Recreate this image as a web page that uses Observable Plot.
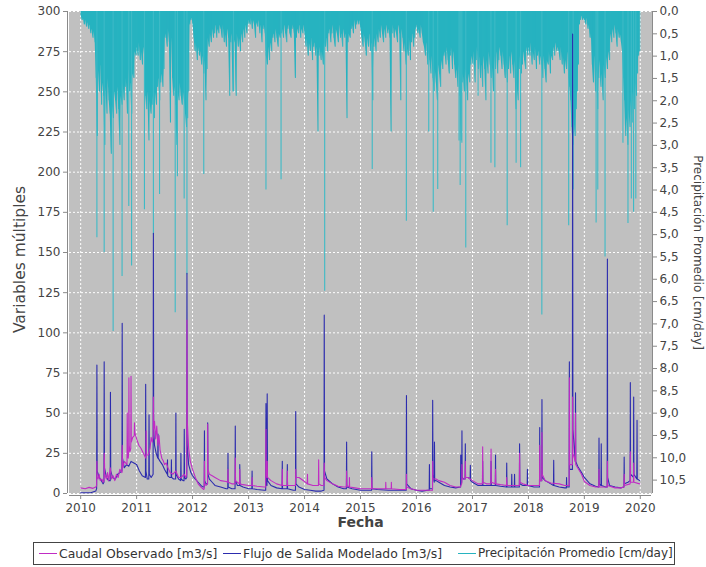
<!DOCTYPE html>
<html>
<head>
<meta charset="utf-8">
<script src="https://cdn.jsdelivr.net/npm/d3@7"></script>
<script src="https://cdn.jsdelivr.net/npm/@observablehq/plot@0.6"></script>
<style>
  body { margin: 0; background: #fff; font-family: "DejaVu Sans", sans-serif; }
  #wrap { position: relative; width: 706px; height: 567px; }
  #legend { position: absolute; left: 33px; top: 542px; width: 642px; height: 23px; border: 1px solid #444; box-sizing: border-box; font-size: 12.4px; color: #333; }
  .item { position: absolute; top: 3px; display: flex; align-items: center; white-space: nowrap; }
  .sw { display: inline-block; width: 18px; height: 1px; margin-right: 2px; }
</style>
</head>
<body>
<div id="wrap"><div id="chart"></div><div id="legend"></div></div>
<script>
// ---------- tick labels ----------
const yearTicks = [2010, 2011, 2012, 2013, 2014, 2015, 2016, 2017, 2018, 2019, 2020];
const leftTicks = [0, 25, 50, 75, 100, 125, 150, 175, 200, 225, 250, 275, 300];
const precipTicks = [0, 0.5, 1, 1.5, 2, 2.5, 3, 3.5, 4, 4.5, 5, 5.5, 6, 6.5, 7, 7.5, 8, 8.5, 9, 9.5, 10, 10.5];
const precipTickLabels = ["0,0","0,5","1,0","1,5","2,0","2,5","3,0","3,5","4,0","4,5","5,0","5,5","6,0","6,5","7,0","7,5","8,0","8,5","9,0","9,5","10,0","10,5"];
const seriesNames = ["Caudal Observado [m3/s]", "Flujo de Salida Modelado [m3/s]", "Precipitación Promedio [cm/day]"];

// ---------- Caudal Observado [m3/s]  [decimal year, value] ----------
const observado = [
[2010.00,3.5],[2010.08,3],[2010.15,3.8],[2010.22,3.2],[2010.27,4],
[2010.285,5],[2010.29,20],[2010.295,10],[2010.31,9],[2010.33,12],[2010.35,8],[2010.38,9],[2010.40,7],
[2010.418,8],[2010.422,25],[2010.43,12],[2010.46,9],[2010.48,13],[2010.50,8],[2010.53,16],[2010.55,9],[2010.58,11],[2010.61,8],[2010.64,12],[2010.67,10],[2010.70,15],
[2010.738,13],[2010.742,30],[2010.75,16],[2010.78,20],
[2010.828,18],[2010.832,50],[2010.838,24],[2010.85,22],
[2010.858,25],[2010.862,72],[2010.868,30],[2010.88,26],
[2010.896,28],[2010.90,73],[2010.905,32],[2010.93,35],
[2010.958,36],[2010.962,44],[2010.968,38],[2011.00,34],[2011.04,30],[2011.08,28],[2011.12,25],[2011.15,23],
[2011.166,22],[2011.17,39],[2011.175,24],[2011.21,24],[2011.24,28],[2011.26,35],[2011.28,32],
[2011.297,35],[2011.30,60],[2011.305,40],[2011.32,45],[2011.34,34],[2011.36,42],[2011.38,30],[2011.40,36],[2011.42,27],[2011.45,22],[2011.48,20],[2011.50,18],[2011.53,19],[2011.56,16],[2011.60,13],[2011.65,12],
[2011.70,14],[2011.75,10],[2011.80,10],[2011.85,12],[2011.88,10],
[2011.896,12],[2011.90,108],[2011.906,45],[2011.93,28],[2011.96,20],[2012.00,15],[2012.05,10],[2012.10,6],[2012.15,4],[2012.20,2.5],
[2012.208,3],[2012.212,20],[2012.216,6],[2012.24,5],
[2012.267,6],[2012.27,43],[2012.275,15],[2012.30,12],[2012.35,11],[2012.40,10],[2012.50,8],[2012.60,7.5],
[2012.628,7],[2012.632,15],[2012.636,7],[2012.70,6],
[2012.758,6],[2012.762,22],[2012.766,8],[2012.80,7],
[2012.838,6],[2012.842,15],[2012.846,6],[2012.90,5.5],[2013.00,5],
[2013.058,5],[2013.062,10],[2013.066,5],[2013.15,4.5],[2013.28,4],
[2013.305,4],[2013.31,40],[2013.315,10],[2013.332,20],[2013.337,10],[2013.40,8],[2013.50,6],
[2013.598,5],[2013.602,15],[2013.606,5],
[2013.688,5],[2013.692,14],[2013.696,5],[2013.80,5],
[2013.838,5],[2013.842,15],[2013.846,10],[2013.90,10],[2014.00,7.5],
[2014.048,6],[2014.052,12],[2014.056,6],[2014.15,5],
[2014.248,5],[2014.252,21],[2014.256,6],[2014.30,5],
[2014.348,5],[2014.352,19],[2014.357,10],[2014.40,8],[2014.50,6],[2014.60,4.5],[2014.70,4],
[2014.748,4],[2014.752,14],[2014.756,5],[2014.80,4],[2014.802,10],[2014.806,4],[2014.90,3.5],[2015.00,3],
[2015.198,3],[2015.202,10],[2015.206,3],[2015.30,3],[2015.45,3],[2015.452,7],[2015.456,3],[2015.55,3],[2015.552,7],[2015.556,3],[2015.70,2.5],
[2015.818,2.5],[2015.822,12],[2015.826,4],[2015.90,3],[2016.00,2],[2016.20,2],
[2016.287,2],[2016.29,20],[2016.295,9],[2016.35,9],[2016.40,8],[2016.50,7],[2016.60,5],[2016.70,4],[2016.78,4],
[2016.808,6],[2016.812,18],[2016.816,9],
[2016.868,9],[2016.872,20],[2016.876,10],[2016.92,10],[2017.00,8],[2017.10,6],
[2017.178,6],[2017.182,29],[2017.186,7],[2017.25,6],
[2017.328,6],[2017.332,27.7],[2017.336,7],
[2017.408,6],[2017.412,15],[2017.416,6],[2017.50,5.5],
[2017.608,5],[2017.612,10],[2017.616,5],[2017.70,5],
[2017.838,5],[2017.842,25],[2017.846,7],[2017.90,6],[2018.00,5],[2018.18,5],
[2018.198,5],[2018.202,30],[2018.206,8],
[2018.238,8],[2018.242,38],[2018.246,12],[2018.30,8],[2018.40,6.5],[2018.55,6],[2018.65,5],
[2018.728,5],[2018.732,72],[2018.736,18],
[2018.786,18],[2018.79,60],[2018.795,25],
[2018.838,20],[2018.842,50],[2018.846,18],[2018.88,16],[2018.95,12],[2019.00,7.5],[2019.10,5],[2019.20,4],
[2019.258,4],[2019.262,15],[2019.266,4],[2019.38,4],
[2019.408,4],[2019.412,20],[2019.416,5],[2019.55,3.5],[2019.65,3.5],
[2019.708,4],[2019.712,12],[2019.716,5],
[2019.818,6],[2019.822,26],[2019.826,7],
[2019.878,7],[2019.882,19],[2019.886,7],[2019.99,6]
];

// ---------- Flujo de Salida Modelado [m3/s] ----------
const modelado = [
[2010.00,0.5],[2010.18,0.5],[2010.27,1.5],
[2010.285,3],[2010.29,80],[2010.295,14],[2010.33,10],[2010.37,8],[2010.40,6],
[2010.416,7],[2010.42,82],[2010.425,16],[2010.46,10],[2010.50,8],
[2010.528,8],[2010.532,63],[2010.537,14],[2010.57,10],[2010.62,9],[2010.66,12],[2010.70,13],
[2010.738,14],[2010.742,106],[2010.747,22],[2010.78,16],[2010.82,18],[2010.86,17],[2010.90,20],[2010.95,19],[2011.00,18],[2011.05,14],[2011.10,11],
[2011.158,10],[2011.162,68],[2011.167,14],[2011.19,9],
[2011.218,9],[2011.222,49],[2011.227,12],[2011.26,10],
[2011.295,12],[2011.30,162],[2011.305,40],[2011.32,30],[2011.35,25],
[2011.378,22],[2011.382,37],[2011.386,22],[2011.42,20],[2011.46,18],[2011.50,15],
[2011.548,12],[2011.552,21],[2011.556,11],[2011.59,10],
[2011.618,10],[2011.622,21],[2011.626,10],[2011.66,9],
[2011.698,9],[2011.702,50],[2011.706,12],[2011.75,9],
[2011.788,8],[2011.792,25],[2011.796,9],[2011.83,8],
[2011.848,8],[2011.852,40],[2011.856,10],[2011.88,9],
[2011.897,10],[2011.90,137],[2011.905,30],[2011.93,18],[2011.97,13],[2012.00,11],[2012.05,9],[2012.10,7],[2012.15,5],[2012.19,4],
[2012.208,4],[2012.212,39],[2012.216,8],[2012.24,6],
[2012.267,6],[2012.27,44],[2012.275,12],[2012.30,9],[2012.35,7],[2012.40,5],[2012.50,4],[2012.60,3],
[2012.628,3],[2012.632,25],[2012.636,4],[2012.70,3],
[2012.758,3],[2012.762,42],[2012.766,8],[2012.80,5],
[2012.838,5],[2012.842,18],[2012.846,5],[2012.90,4],[2013.00,3],
[2013.058,3],[2013.062,14],[2013.066,3],[2013.15,2.5],[2013.28,2],
[2013.305,2],[2013.31,56],[2013.315,6],[2013.328,5],[2013.332,62],[2013.337,8],[2013.40,5],[2013.50,3.5],
[2013.598,3],[2013.602,20],[2013.606,3],
[2013.688,3],[2013.692,18],[2013.696,3],[2013.80,2],
[2013.838,2],[2013.842,51],[2013.846,6],[2013.90,4],[2014.00,2.5],[2014.10,2],[2014.20,1.5],[2014.30,1.5],
[2014.348,2],[2014.352,111],[2014.357,14],[2014.40,9],[2014.50,6],[2014.60,4],[2014.70,3],
[2014.748,3],[2014.752,32],[2014.756,4],[2014.85,3],[2015.00,2],[2015.10,2],
[2015.198,2],[2015.202,26],[2015.206,3],[2015.30,2.5],[2015.50,2],[2015.70,2],[2015.80,2],
[2015.818,2],[2015.822,61],[2015.826,6],[2015.90,3],[2016.00,2],[2016.10,1.5],[2016.20,2],
[2016.228,2],[2016.232,18],[2016.236,3],[2016.26,3],
[2016.287,3],[2016.29,58],[2016.295,12],[2016.318,7],[2016.322,32],[2016.326,8],[2016.35,8],[2016.40,7],[2016.50,5],[2016.60,4],[2016.70,3.5],[2016.78,4],
[2016.788,4],[2016.79,24],[2016.795,6],
[2016.808,7],[2016.812,39],[2016.816,10],[2016.84,9],
[2016.868,9],[2016.872,31],[2016.876,10],[2016.92,10],
[2016.958,9],[2016.962,17.5],[2016.966,8],[2017.00,7],[2017.10,5],
[2017.178,5],[2017.182,20],[2017.186,5],
[2017.328,5],[2017.332,20],[2017.336,5],
[2017.408,5],[2017.412,24],[2017.416,5],[2017.50,4.5],
[2017.608,4],[2017.612,19],[2017.616,4],
[2017.698,4],[2017.702,12],[2017.706,4],
[2017.748,4],[2017.752,12],[2017.756,4],
[2017.838,4],[2017.842,31],[2017.846,6],[2017.90,5],
[2017.978,5],[2017.982,15],[2017.986,5],[2018.10,4],[2018.18,4],
[2018.198,4],[2018.202,41],[2018.206,8],
[2018.238,8],[2018.242,58.5],[2018.246,10],[2018.30,8],[2018.40,6],
[2018.448,5],[2018.452,20.6],[2018.456,5],[2018.55,4],[2018.65,3.5],
[2018.678,3.5],[2018.682,10],[2018.686,4],
[2018.728,4],[2018.732,82],[2018.736,15],
[2018.786,15],[2018.79,286],[2018.795,40],
[2018.838,20],[2018.842,62.7],[2018.846,20],[2018.88,17],[2018.95,13],[2019.00,10],[2019.10,6],[2019.20,4.5],
[2019.258,4],[2019.262,34.5],[2019.266,6],
[2019.298,5],[2019.302,31],[2019.306,5],[2019.38,4],
[2019.408,4],[2019.412,146],[2019.416,10],[2019.45,5],[2019.55,4],[2019.65,3.5],
[2019.708,4],[2019.712,22.7],[2019.716,6],[2019.78,7],
[2019.818,8],[2019.822,69],[2019.826,12],
[2019.878,10],[2019.882,60],[2019.886,12],
[2019.938,9],[2019.942,45.6],[2019.946,9],[2019.99,8]
];

// ---------- Precipitación Promedio [cm/day]: weekly depth of the dense band ----------
const precip2010 = [0.1,0.2,0.15,0.3,0.2,0.35,0.25,0.4,0.3,0.5,0.4,0.6,0.45,0.7,1.5,2.8,1.3,1.8,1.2,2.1,1.6,1.9,3.0,1.7,2.3,1.5,2.0,2.3,3.2,2.1,2.4,1.8,2.0,2.3,1.7,2.2,3.0,1.9,2.1,1.6,2.0,1.7,1.5,2.3,1.3,1.8,1.6,2.3,1.4,1.5,0.9,1.0];
const precip2011 = [0.8,1.0,0.7,1.1,0.9,1.2,0.8,1.0,1.9,2.2,1.8,2.9,2.0,2.3,2.1,1.9,2.4,1.8,2.1,1.7,1.5,2.0,1.6,1.4,1.7,1.3,0.6,0.5,0.8,0.4,0.7,2.5,0.6,1.5,1.9,1.7,2.1,3.0,1.8,2.0,1.6,1.9,2.1,1.8,2.0,2.3,2.6,2.4,1.8,0.3,0.2,0.15];
const precip2012 = [0.3,0.6,0.9,0.7,1.1,0.8,1.0,0.9,1.2,1.0,1.4,1.1,2.0,1.3,0.6,0.8,0.5,0.7,0.4,0.6,0.5,0.3,0.6,0.4,0.5,0.3,0.4,0.6,0.3,0.7,0.5,0.8,0.4,0.6,1.9,0.7,0.5,1.8,0.6,0.7,1.9,0.5,0.8,0.6,0.9,0.5,0.7,0.4,0.6,0.3,0.5,0.3];
const precip2013 = [0.2,0.3,0.15,0.4,0.2,0.3,0.6,0.25,0.35,0.2,0.5,0.3,0.7,0.4,0.3,0.5,1.0,1.2,0.8,1.1,0.7,0.9,0.6,0.5,0.7,0.4,0.6,0.8,0.5,0.6,0.5,0.4,0.6,0.3,0.5,0.7,0.4,0.3,0.5,0.6,0.4,0.3,0.5,1.5,0.6,0.4,0.5,0.3,0.6,0.4,0.5,0.3];
const precip2014 = [0.5,0.8,0.6,1.0,0.7,0.9,0.6,1.1,0.8,0.7,1.0,0.8,2.7,1.0,0.8,1.1,0.9,1.2,0.7,0.8,0.6,0.9,0.5,0.4,0.7,0.5,0.3,0.6,0.8,0.4,0.5,0.7,0.3,0.6,0.5,0.8,0.4,0.6,0.5,2.4,0.7,0.5,0.6,0.4,0.3,0.5,0.2,0.4,0.3,0.2,0.3,0.2];
const precip2015 = [0.4,0.6,0.8,0.5,0.7,1.0,0.6,0.8,0.5,0.9,0.7,2.0,0.8,0.6,0.9,0.5,0.7,0.4,0.6,0.3,0.5,0.7,0.4,0.6,0.3,0.5,0.4,0.6,2.7,0.5,0.3,0.6,0.4,0.5,0.7,0.3,0.5,2.0,0.4,0.6,0.9,0.7,1.2,0.8,1.0,0.6,1.1,0.7,0.5,0.8,0.6,0.4];
const precip2016 = [0.3,0.5,0.4,0.6,0.3,0.5,0.7,0.8,1.0,0.7,1.2,0.9,1.1,1.4,1.0,1.5,1.8,1.3,1.6,2.0,1.2,1.4,1.7,1.1,1.3,1.0,0.9,1.2,0.8,1.1,1.4,1.0,0.8,1.3,0.9,1.2,1.5,1.3,1.7,1.2,1.9,2.9,1.6,1.4,1.8,1.3,1.5,2.0,1.4,1.6,1.2,1.0];
const precip2017 = [1.2,0.9,1.6,1.1,0.8,1.3,1.0,1.5,1.2,1.7,1.0,1.3,2.0,1.1,1.4,0.9,1.2,1.5,1.2,1.8,1.0,1.3,0.9,1.4,1.1,0.8,1.0,1.3,0.9,1.2,1.5,1.1,1.6,1.3,1.0,1.4,0.9,1.2,1.5,1.1,2.2,1.6,2.0,1.3,1.0,1.4,1.2,0.9,1.1,1.3,0.8,1.0];
const precip2018 = [0.8,1.0,0.7,1.2,0.9,1.1,0.8,1.3,1.0,0.9,1.2,1.0,1.2,1.5,1.0,1.3,1.6,1.1,1.2,0.9,1.4,1.0,1.1,0.8,1.0,0.7,0.9,0.8,0.9,1.1,0.8,1.2,1.0,1.4,1.1,1.3,0.9,1.5,1.7,2.0,2.6,3.0,2.4,2.8,2.2,1.8,1.2,0.3,0.2,0.1,0.2,0.15];
const precip2019 = [0.2,0.3,0.15,0.4,0.3,0.6,0.5,1.2,1.6,1.0,1.8,1.3,2.2,1.5,1.1,1.7,1.4,2.0,1.2,1.5,1.0,1.3,0.9,1.1,0.5,0.7,0.4,0.6,0.3,0.5,0.8,0.4,0.6,0.5,0.7,0.9,1.5,2.0,2.8,2.4,3.0,2.2,2.6,2.0,2.5,1.8,2.2,1.6,1.9,1.4,1.0,0.9];
// isolated heavy days [decimal year, cm/day]
const precipPeaks = [
[2010.29,5.07],[2010.42,5.4],[2010.58,7.17],[2010.74,5.94],[2010.86,4.37],[2010.91,5.7],[2011.14,4.44],[2011.30,5.0],
[2011.41,4.1],[2011.69,6.75],[2011.73,3.7],[2011.85,4.2],[2011.90,5.9],[2012.20,3.65],[2012.73,1.8],[2013.31,4.0],[2013.58,3.77],
[2014.36,6.27],[2015.21,3.54],[2015.82,4.7],[2016.22,2.7],[2016.30,4.5],[2016.38,3.99],[2016.76,2.9],[2016.78,3.9],[2016.81,2.95],[2016.88,5.3],
[2017.10,1.9],[2017.33,3.4],[2017.40,3.5],[2017.62,4.8],[2017.78,3.4],[2017.86,3.5],[2018.24,6.8],[2018.72,4.8],[2018.80,4.0],[2019.21,4.74],
[2019.24,4.0],[2019.37,5.5],[2019.69,2.95],[2019.78,4.75],[2019.84,4.2],[2019.88,4.5],[2019.92,4.2]
];

// ---------- helpers ----------
function ty(t) { // decimal year -> UTC date
  const y = Math.floor(t), s = Date.UTC(y, 0, 1), e = Date.UTC(y + 1, 0, 1);
  return new Date(s + (t - y) * (e - s));
}
const leftMax = 300, precipMax = 10.8; // right axis spans 0..10.8 (reversed) over the same height
const toLeft = p => leftMax - p * leftMax / precipMax;

const precipYears = [[2010, precip2010],[2011, precip2011],[2012, precip2012],[2013, precip2013],[2014, precip2014],
  [2015, precip2015],[2016, precip2016],[2017, precip2017],[2018, precip2018],[2019, precip2019]];
const precipRows = precipYears.flatMap(([yr, vals]) => vals.map((v, i) => ({t: ty(yr + (i + 0.5) / vals.length), v})));
const peakRows = precipPeaks.map(([t, v]) => ({t: ty(t), v}));
const obsRows = observado.map(([t, v]) => ({t: ty(t), v}));
const modRows = modelado.map(([t, v]) => ({t: ty(t), v}));

const xDomain = [ty(2009.8), ty(2020.2)];
const yearDates = yearTicks.map(y => ty(y));
const rightTickPos = precipTicks.map(toLeft);
const rightLabel = new Map(rightTickPos.map((v, i) => [v, precipTickLabels[i]]));

const C_OBS = "#c02cc4", C_MOD = "#2c2cae", C_PRE = "#27b3c0", C_PRE2 = "#3dbac6";

const chart = Plot.plot({
  width: 706, height: 540,
  marginLeft: 69, marginRight: 55, marginTop: 11, marginBottom: 47,
  style: {fontFamily: "'DejaVu Sans', sans-serif", fontSize: "12px", color: "#444", background: "white"},
  x: {type: "utc", domain: xDomain},
  y: {domain: [0, leftMax]},
  marks: [
    Plot.frame({fill: "#c0c0c0", stroke: "#c0c0c0"}),
    Plot.ruleX(yearDates, {stroke: "white", strokeDasharray: "2,2", strokeWidth: 1}),
    Plot.ruleY(leftTicks, {stroke: "white", strokeDasharray: "2,2", strokeWidth: 1}),
    Plot.areaY(precipRows, {x: "t", y1: leftMax, y2: d => toLeft(d.v), fill: C_PRE}),
    Plot.ruleX(precipRows, {x: "t", y1: leftMax, y2: d => toLeft(d.v), stroke: C_PRE, strokeWidth: 1}),
    Plot.ruleX(peakRows, {x: "t", y1: leftMax, y2: d => toLeft(d.v), stroke: C_PRE2, strokeWidth: 1.1}),
    Plot.line(modRows, {x: "t", y: "v", stroke: C_MOD, strokeWidth: 1.1}),
    Plot.line(obsRows, {x: "t", y: "v", stroke: C_OBS, strokeWidth: 1.1}),
    Plot.ruleX([xDomain[0]], {stroke: "#8a8a8a", dx: -2}),
    Plot.ruleX([xDomain[1]], {stroke: "#8a8a8a", dx: 1}),
    Plot.ruleY([0], {stroke: "#8a8a8a", dy: 2}),
    Plot.axisX(yearDates, {anchor: "bottom", tickSize: 4, tickPadding: 4, dy: 2, stroke: "#8a8a8a", fill: "#444", tickFormat: d => String(d.getUTCFullYear()), label: null}),
    Plot.axisY(leftTicks, {anchor: "left", tickSize: 4, tickPadding: 3, dx: -2, stroke: "#8a8a8a", fill: "#444", label: null}),
    Plot.axisY(rightTickPos, {anchor: "right", tickSize: 4, tickPadding: 3, dx: 1, stroke: "#8a8a8a", fill: "#444", tickFormat: v => rightLabel.get(v), label: null}),
    Plot.text(["Variables múltiples"], {frameAnchor: "left", textAnchor: "middle", dx: -49, dy: 7, rotate: -90, fontSize: 15.5, fill: "#444"}),
    Plot.text([seriesNames[2]], {frameAnchor: "right", textAnchor: "middle", dx: 46, rotate: 90, fontSize: 12, fill: "#444"}),
    Plot.text(["Fecha"], {frameAnchor: "bottom", dy: 33, fontSize: 14, fontWeight: "bold", fill: "#444"})
  ]
});
document.getElementById("chart").appendChild(chart);

// ---------- legend ----------
const legend = document.getElementById("legend");
const legendColors = [C_OBS, C_MOD, C_PRE];
const legendLeft = [5, 189, 424];
const legendSize = ["12.4px", "12.4px", "12px"];
seriesNames.forEach((name, i) => {
  const it = document.createElement("div");
  it.className = "item";
  it.style.left = legendLeft[i] + "px";
  it.style.fontSize = legendSize[i];
  it.innerHTML = `<span class="sw" style="background:${legendColors[i]}"></span><span>${name}</span>`;
  legend.appendChild(it);
});
</script>
</body>
</html>
